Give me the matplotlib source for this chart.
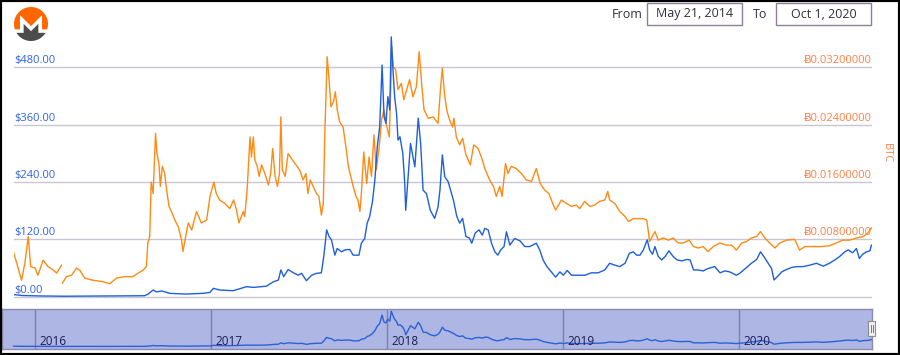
import numpy as np
import pandas as pd
import matplotlib
matplotlib.use('Agg')
import matplotlib.pyplot as plt
import matplotlib.dates as mdates
from matplotlib.patches import Rectangle, Polygon

plt.rcParams['font.family'] = ['Open Sans', 'DejaVu Sans']

# XMR price in USD (left axis, blue)
usd_dates = ['2015-11-18', '2015-12-05', '2016-01-15', '2016-03-01', '2016-06-01', '2016-08-15', '2016-08-22',
             '2016-09-02', '2016-09-09', '2016-09-20', '2016-10-07', '2016-11-09', '2016-12-14', '2016-12-29',
             '2017-01-05', '2017-01-18', '2017-02-15', '2017-03-15', '2017-03-29', '2017-04-25', '2017-05-09', '2017-05-20', '2017-05-25', '2017-05-31',
             '2017-06-09', '2017-06-20', '2017-06-30', '2017-07-07', '2017-07-17', '2017-07-28', '2017-08-07', '2017-08-17', '2017-08-22', '2017-08-28',
             '2017-09-02', '2017-09-07', '2017-09-14', '2017-09-19', '2017-09-28', '2017-10-05', '2017-10-15', '2017-10-22', '2017-11-03', '2017-11-08',
             '2017-11-15', '2017-11-20', '2017-11-25', '2017-12-01', '2017-12-06', '2017-12-11', '2017-12-16', '2017-12-21', '2017-12-25', '2017-12-29',
             '2018-01-02', '2018-01-06', '2018-01-09', '2018-01-13', '2018-01-16', '2018-01-20', '2018-01-23', '2018-01-27', '2018-02-02', '2018-02-06',
             '2018-02-08', '2018-02-13', '2018-02-18', '2018-02-23', '2018-02-27', '2018-03-06', '2018-03-11', '2018-03-16', '2018-03-23', '2018-03-31',
             '2018-04-09', '2018-04-16', '2018-04-20', '2018-04-25', '2018-04-30', '2018-05-07', '2018-05-12', '2018-05-18', '2018-05-25', '2018-05-31',
             '2018-06-06', '2018-06-13', '2018-06-20', '2018-06-25', '2018-07-02', '2018-07-10', '2018-07-17', '2018-07-22', '2018-07-29', '2018-08-05',
             '2018-08-12', '2018-08-18', '2018-08-24', '2018-08-31', '2018-09-05', '2018-09-12', '2018-09-22', '2018-10-03', '2018-10-13', '2018-10-23',
             '2018-11-06', '2018-11-13', '2018-11-20', '2018-11-28', '2018-12-07', '2018-12-16', '2018-12-25',
             '2019-01-01', '2019-01-09', '2019-01-18', '2019-02-01', '2019-02-15', '2019-02-28', '2019-03-14', '2019-03-28', '2019-04-07', '2019-04-18',
             '2019-04-28', '2019-05-09', '2019-05-18', '2019-05-26', '2019-06-02', '2019-06-09', '2019-06-16', '2019-06-24', '2019-06-29', '2019-07-05',
             '2019-07-10', '2019-07-17', '2019-07-24', '2019-07-31', '2019-08-08', '2019-08-17', '2019-08-25', '2019-09-04', '2019-09-14', '2019-09-21',
             '2019-09-28', '2019-10-08', '2019-10-18', '2019-10-28', '2019-11-11', '2019-11-22', '2019-12-02', '2019-12-12', '2019-12-26',
             '2020-01-02', '2020-01-16', '2020-01-26', '2020-02-06', '2020-02-14', '2020-02-21', '2020-03-01', '2020-03-08', '2020-03-13', '2020-03-20',
             '2020-03-29', '2020-04-08', '2020-04-18', '2020-04-29', '2020-05-12', '2020-05-26', '2020-06-09', '2020-06-23', '2020-07-06', '2020-07-17',
             '2020-07-27', '2020-08-07', '2020-08-14', '2020-08-23', '2020-08-31', '2020-09-06', '2020-09-13', '2020-09-21', '2020-09-28', '2020-10-01']
usd_values = [4.5, 2.5, 1.5, 1.0, 1.5, 2.0, 5,
              14, 10, 12, 7, 5.5, 7, 9,
              17.5, 14, 12.6, 21, 19.5, 22, 31, 35, 56, 42,
              57, 50, 45, 49, 33.5, 45, 49, 50, 84, 140,
              126, 119, 87, 101, 94, 98, 99, 87, 87, 112,
              122, 154, 167, 199, 244, 314, 356, 485, 377, 363,
              419, 391, 544, 468, 419, 384, 328, 335, 300, 237,
              181, 251, 321, 293, 272, 374, 321, 223, 216, 181,
              164, 188, 223, 297, 251, 241, 223, 202, 168, 154,
              164, 126, 123, 112, 133, 140, 129, 143, 140, 112,
              94, 87, 98, 105, 136, 108, 122, 117, 105, 105,
              112, 98, 77, 63, 52, 41, 52,
              45, 55, 45, 45, 45, 50, 50, 56, 70, 66,
              63, 70, 91, 94, 87, 87, 98, 119, 98, 89,
              105, 84, 77, 84, 96, 84, 77, 75, 78, 77,
              56, 56, 54, 59, 63, 50, 54, 52, 45,
              49, 61, 70, 78, 94, 84, 70, 59, 35, 42,
              52, 57, 61, 63, 63, 66, 70, 64, 70, 77,
              84, 94, 98, 92, 101, 80, 89, 94, 96, 108]

# XMR price in BTC (right axis, orange); one missing day early 2016
btc_dates = ['2015-11-18', '2015-11-24', '2015-12-04', '2015-12-11', '2015-12-18', '2015-12-23',
             '2016-01-01', '2016-01-07', '2016-01-18', '2016-01-28', '2016-02-08', '2016-02-15', '2016-02-25', '2016-02-26',
             '2016-02-27', '2016-03-06', '2016-03-17', '2016-03-27', '2016-04-03', '2016-04-13', '2016-04-30', '2016-05-21', '2016-06-04', '2016-06-18',
             '2016-07-05', '2016-07-22', '2016-08-02', '2016-08-12', '2016-08-19', '2016-08-22', '2016-08-26', '2016-08-29', '2016-09-02', '2016-09-07',
             '2016-09-10', '2016-09-14', '2016-09-17', '2016-09-21', '2016-09-26', '2016-09-30', '2016-10-05', '2016-10-10', '2016-10-17', '2016-10-24',
             '2016-10-31', '2016-11-03', '2016-11-09', '2016-11-14', '2016-11-21', '2016-12-01', '2016-12-11', '2016-12-22', '2016-12-29',
             '2017-01-06', '2017-01-11', '2017-01-18', '2017-01-29', '2017-02-08', '2017-02-16', '2017-02-22', '2017-02-27',
             '2017-03-08', '2017-03-11', '2017-03-16', '2017-03-22', '2017-03-25', '2017-03-29',
             '2017-04-01', '2017-04-06', '2017-04-10', '2017-04-15', '2017-04-22', '2017-04-29',
             '2017-05-04', '2017-05-08', '2017-05-13', '2017-05-18', '2017-05-22', '2017-05-25', '2017-05-28',
             '2017-06-03', '2017-06-09', '2017-06-16', '2017-06-23',
             '2017-07-03', '2017-07-10', '2017-07-16', '2017-07-20', '2017-07-25', '2017-07-31',
             '2017-08-07', '2017-08-12', '2017-08-17', '2017-08-21', '2017-08-24', '2017-08-29',
             '2017-09-02', '2017-09-06', '2017-09-11', '2017-09-15', '2017-09-19', '2017-09-24',
             '2017-10-01', '2017-10-07', '2017-10-12', '2017-10-17', '2017-10-22', '2017-10-28',
             '2017-11-01', '2017-11-05', '2017-11-08', '2017-11-13', '2017-11-19', '2017-11-24', '2017-11-29',
             '2017-12-04', '2017-12-09', '2017-12-15', '2017-12-20', '2017-12-25', '2017-12-31',
             '2018-01-05', '2018-01-08', '2018-01-10', '2018-01-13', '2018-01-18', '2018-01-23', '2018-01-30',
             '2018-02-04', '2018-02-10', '2018-02-16', '2018-02-23',
             '2018-03-02', '2018-03-08', '2018-03-13', '2018-03-18', '2018-03-27',
             '2018-04-06', '2018-04-16', '2018-04-21', '2018-04-25', '2018-04-30',
             '2018-05-05', '2018-05-10', '2018-05-16', '2018-05-19', '2018-05-24', '2018-05-31',
             '2018-06-06', '2018-06-13', '2018-06-22', '2018-06-29',
             '2018-07-08', '2018-07-15', '2018-07-22',
             '2018-08-01', '2018-08-09', '2018-08-15', '2018-08-22', '2018-08-27',
             '2018-09-03', '2018-09-08', '2018-09-15', '2018-09-25',
             '2018-10-06', '2018-10-16', '2018-10-27',
             '2018-11-06', '2018-11-14', '2018-11-23',
             '2018-12-02', '2018-12-10', '2018-12-16', '2018-12-28',
             '2019-01-08', '2019-01-18', '2019-01-28', '2019-02-04', '2019-02-14', '2019-02-25',
             '2019-03-07', '2019-03-17', '2019-03-28', '2019-04-03', '2019-04-07', '2019-04-18', '2019-04-28',
             '2019-05-09', '2019-05-16', '2019-05-26', '2019-06-05', '2019-06-16', '2019-06-23', '2019-06-26', '2019-06-29',
             '2019-07-10', '2019-07-17', '2019-07-27', '2019-08-07', '2019-08-17', '2019-08-27',
             '2019-09-07', '2019-09-19', '2019-09-28', '2019-10-08', '2019-10-18', '2019-10-28',
             '2019-11-08', '2019-11-22', '2019-12-05', '2019-12-16', '2019-12-26',
             '2020-01-06', '2020-01-16', '2020-01-26', '2020-02-06', '2020-02-14', '2020-02-23',
             '2020-03-04', '2020-03-15', '2020-03-25', '2020-04-08', '2020-04-25', '2020-05-05', '2020-05-16',
             '2020-06-02', '2020-06-19', '2020-07-06', '2020-07-20', '2020-08-03', '2020-08-17', '2020-08-31',
             '2020-09-14', '2020-09-24', '2020-10-01']
btc_values = [0.0061, 0.0047, 0.0023, 0.0047, 0.0084, 0.0042,
              0.0040, 0.0030, 0.0051, 0.0042, 0.0037, 0.0033, 0.0044, np.nan,
              0.0019, 0.0028, 0.0030, 0.0040, 0.0037, 0.0026, 0.0023, 0.0021, 0.0018, 0.0026,
              0.0028, 0.0028, 0.0033, 0.0037, 0.0042, 0.0075, 0.0084, 0.0160, 0.0144, 0.0228,
              0.0200, 0.0186, 0.0154, 0.0182, 0.0172, 0.0149, 0.0126, 0.0119, 0.0107, 0.0098,
              0.0079, 0.0063, 0.0086, 0.0103, 0.0093, 0.0119, 0.0103, 0.0107, 0.0140,
              0.0160, 0.0144, 0.0135, 0.0130, 0.0123, 0.0135, 0.0121, 0.0103,
              0.0119, 0.0112, 0.0149, 0.0223, 0.0195, 0.0223,
              0.0191, 0.0182, 0.0168, 0.0184, 0.0172, 0.0156,
              0.0172, 0.0207, 0.0168, 0.0154, 0.0172, 0.0251, 0.0177,
              0.0168, 0.0200, 0.0193, 0.0186,
              0.0177, 0.0163, 0.0172, 0.0144, 0.0163, 0.0154,
              0.0144, 0.0140, 0.0114, 0.0130, 0.0223, 0.0335,
              0.0303, 0.0265, 0.0272, 0.0286, 0.0261, 0.0244,
              0.0237, 0.0209, 0.0182, 0.0168, 0.0154, 0.0140,
              0.0135, 0.0119, 0.0144, 0.0202, 0.0158, 0.0195, 0.0168,
              0.0226, 0.0177, 0.0209, 0.0247, 0.0261, 0.0237,
              0.0223, 0.0293, 0.0349, 0.0321, 0.0317, 0.0289, 0.0298,
              0.0275, 0.0289, 0.0303, 0.0279,
              0.0293, 0.0342, 0.0298, 0.0261, 0.0249,
              0.0251, 0.0242, 0.0289, 0.0319, 0.0279,
              0.0258, 0.0247, 0.0237, 0.0249, 0.0223, 0.0212,
              0.0221, 0.0198, 0.0184, 0.0212,
              0.0207, 0.0195, 0.0179,
              0.0163, 0.0154, 0.0140, 0.0154, 0.0140,
              0.0186, 0.0172, 0.0182, 0.0179,
              0.0172, 0.0163, 0.0161,
              0.0179, 0.0158, 0.0149,
              0.0144, 0.0130, 0.0121, 0.0135,
              0.0130, 0.0126, 0.0128, 0.0123, 0.0133, 0.0126,
              0.0128, 0.0133, 0.0135, 0.0147, 0.0135, 0.0130, 0.0119,
              0.0112, 0.0105, 0.0109, 0.0109, 0.0109, 0.0107, 0.0093, 0.0077,
              0.0091, 0.0079, 0.0082, 0.0079, 0.0082, 0.0075,
              0.0075, 0.0079, 0.0070, 0.0068, 0.0070, 0.0063,
              0.0070, 0.0075, 0.0072, 0.0072, 0.0065,
              0.0075, 0.0077, 0.0082, 0.0084, 0.0091, 0.0082,
              0.0075, 0.0068, 0.0075, 0.0079, 0.0080, 0.0065, 0.0070,
              0.0070, 0.0070, 0.0071, 0.0075, 0.0079, 0.0079, 0.0082,
              0.0084, 0.0089, 0.0096]

usd_ticks = [0, 120, 240, 360, 480]
btc_ticks = [0.008, 0.016, 0.024, 0.032]
nav_years = [2016, 2017, 2018, 2019, 2020]
range_from = 'May 21, 2014'
range_to = 'Oct 1, 2020'

ORANGE = '#ff8a14'
BLUE = '#1d5fdc'
W, H = 900, 355


def box(l, t, r, b):
    # pixel box (top-left origin) -> figure fraction rect
    return [l / W, 1 - b / H, (r - l) / W, (b - t) / H]


fig = plt.figure(figsize=(9, 3.55), dpi=100)
fig.patch.set_facecolor('white')

usd_t = pd.to_datetime(usd_dates)
btc_t = pd.to_datetime(btc_dates)
x0 = pd.Timestamp('2015-11-18 10:00')
x1 = pd.Timestamp('2020-10-02 07:00')

# main plot: BTC axis underneath, USD axis on top
ax_btc = fig.add_axes(box(14, 30, 872, 300))
ax_usd = ax_btc.twinx()
usd_lim = (-6.9, 558.5)
ax_usd.set_ylim(usd_lim)
ax_btc.set_ylim(usd_lim[0] * 0.008 / 120, usd_lim[1] * 0.008 / 120)
for a in (ax_btc, ax_usd):
    a.set_xlim(x0, x1)
    a.set_xticks([])
    a.set_yticks([])
    for s in a.spines.values():
        s.set_visible(False)

for v in [0] + btc_ticks:
    ax_btc.axhline(v, color='#c9c5d2', lw=1, zorder=0)

ax_btc.plot(btc_t, btc_values, color=ORANGE, lw=1.0)
ax_usd.plot(usd_t, usd_values, color=BLUE, lw=1.0)

for v in usd_ticks:
    ax_usd.annotate('${:.2f}'.format(v), xy=(0, v), xycoords=ax_usd.get_yaxis_transform(),
                    xytext=(0, 1), textcoords='offset pixels', ha='left', va='bottom',
                    color='#2f62e8', fontsize=8)
for v in btc_ticks:
    ax_btc.annotate('\u0243{:.8f}'.format(v), xy=(1, v), xycoords=ax_btc.get_yaxis_transform(),
                    xytext=(0, 1), textcoords='offset pixels', ha='right', va='bottom',
                    color='#ff7f45', fontsize=8)

fig.text(886 / W, 1 - 153 / H, 'BTC', rotation=270, ha='center', va='center',
         color='#ff7f45', fontsize=8)

# navigator
nav = fig.add_axes(box(2, 309, 872, 349))
nav.set_facecolor('#aeb6e3')
nav.set_xlim(pd.Timestamp('2015-10-24 12:00'), x1)
nav.set_ylim(-39, 578)
nav.set_xticks([])
nav.set_yticks([])
for s in nav.spines.values():
    s.set_color('#8c8ab2')
    s.set_linewidth(1)
for yr in nav_years:
    d = mdates.date2num(pd.Timestamp('{}-01-01'.format(yr)))
    nav.axvline(d, color='#7f7fae', lw=1)
    nav.annotate(str(yr), xy=(d, 0), xycoords=nav.get_xaxis_transform(),
                 xytext=(4, 4), textcoords='offset pixels', ha='left', va='baseline',
                 color='#1c1c52', fontsize=8.5)
nav.plot(usd_t, usd_values, color='#2a62d6', lw=1.0)

# navigator handle
fig.add_artist(Rectangle((868 / W, 1 - 336 / H), 7 / W, 15 / H, transform=fig.transFigure,
                         facecolor='#f0f0f0', edgecolor='#8c8c8c', lw=0.8))
for hx in (870.5, 872.5):
    fig.add_artist(plt.Line2D([hx / W, hx / W], [1 - 332 / H, 1 - 325 / H],
                              transform=fig.transFigure, color='#777777', lw=0.7))

# header: date range boxes
fig.text(612 / W, 1 - 14 / H, 'From', ha='left', va='center', color='#303040', fontsize=9)
fig.text(753 / W, 1 - 14 / H, 'To', ha='left', va='center', color='#303040', fontsize=9)
for (l, r), label in (((647, 742), range_from), ((776, 871), range_to)):
    fig.add_artist(Rectangle((l / W, 1 - 24.5 / H), (r - l) / W, 21.5 / H, transform=fig.transFigure,
                             facecolor='white', edgecolor='#8c7f9c', lw=1))
    fig.text((l + r) / 2 / W, 1 - 14 / H, label, ha='center', va='center',
             color='#303040', fontsize=9)

# monero logo
lax = fig.add_axes(box(14, 7, 48, 41))
lax.set_xlim(0, 256)
lax.set_ylim(256, 0)
lax.axis('off')
t = np.linspace(np.pi - 0.3214, 2 * np.pi + 0.3214, 80)
arc = np.column_stack([128 + 128 * np.cos(t), 128 + 128 * np.sin(t)])
m_top = np.array([[211.2, 168.4], [211.2, 60.7], [128, 144], [44.8, 60.7], [44.8, 168.4]])
lax.add_patch(Polygon(np.vstack([arc, m_top]), closed=True, facecolor='#ff6600', edgecolor='none'))
t = np.linspace(0.5464, np.pi - 0.5464, 60)
arc = np.column_stack([128 + 128 * np.cos(t), 128 + 128 * np.sin(t)])
m_bot = np.array([[72.5, 194.5], [72.5, 126.7], [128, 182.2], [183.4, 126.7], [183.4, 194.5]])
lax.add_patch(Polygon(np.vstack([arc, m_bot]), closed=True, facecolor='#4c4c4c', edgecolor='none'))

# outer frame
fig.add_artist(Rectangle((0, 0), 1, 1, transform=fig.transFigure, fill=False,
                         edgecolor='black', lw=3))

fig.savefig('out.png', dpi=100)
